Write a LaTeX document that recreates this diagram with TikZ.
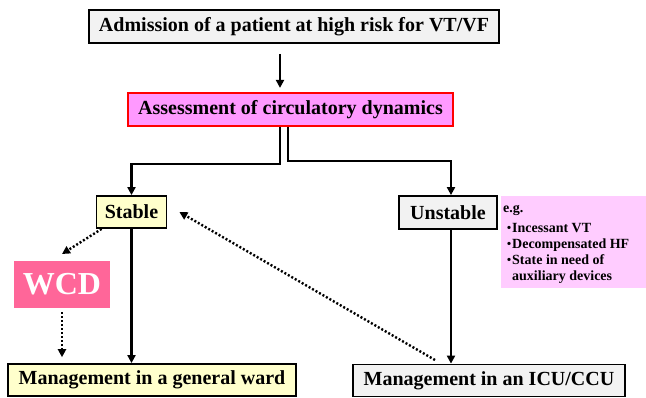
\documentclass[tikz,border=0pt]{standalone}
\usepackage{fontspec}
\setmainfont{Liberation Serif}
\newfontfamily\cjk{Noto Sans CJK JP}
\usetikzlibrary{arrows.meta,calc}
\definecolor{boxgray}{HTML}{F2F2F2}
\definecolor{assessfill}{HTML}{FF99FF}
\definecolor{assessborder}{HTML}{FF0000}
\definecolor{stablefill}{HTML}{FFFFCC}
\definecolor{notefill}{HTML}{FFCCFF}
\definecolor{wcdfill}{HTML}{FF6699}
\newcommand{\mydot}{{\cjk\fontsize{12}{14}\selectfont ・}\kern-3pt}
\begin{document}
\begin{tikzpicture}[x=1pt,y=-1pt,
  base/.style={draw=black,line width=1.8pt,inner sep=0pt,align=center,font=\bfseries\fontsize{20}{22}\selectfont},
  graybox/.style={base,fill=boxgray},
  yellowbox/.style={base,fill=stablefill},
  conn/.style={line width=2.2pt,-{Triangle[length=8pt,width=8pt]}},
  dotconn/.style={line width=2.4pt,dash pattern=on 2pt off 2pt,-{Triangle[length=8pt,width=8pt]}}]
\useasboundingbox (0,0) rectangle (646,397);
\node[graybox,minimum width=410pt,minimum height=33pt] (adm) at (294,26.5) {Admission of a patient at high risk for VT/VF};
\node[base,draw=assessborder,fill=assessfill,minimum width=325pt,minimum height=33pt] (ass) at (290.5,109.5) {Assessment of circulatory dynamics};
\node[yellowbox,minimum width=70pt,minimum height=32pt] (st) at (131.5,212) {Stable};
\node[graybox,minimum width=98pt,minimum height=33pt] (un) at (448,212.5) {Unstable};
\node[fill=notefill,inner sep=0pt,minimum width=145pt,minimum height=92pt] (note) at (573.5,242) {};
\node[anchor=north west,inner sep=0pt,align=left,font=\bfseries\fontsize{14}{16}\selectfont] (notetext) at (503,205) {e.g.\\[4pt]\mydot Incessant VT\\\mydot Decompensated HF\\\mydot State in need of\\\hspace*{9pt}auxiliary devices};
\node[fill=wcdfill,text=white,inner sep=0pt,minimum width=96pt,minimum height=47pt,font=\bfseries\fontsize{32}{34}\selectfont] (wcd) at (62,284.5) {WCD};
\node[yellowbox,minimum width=288pt,minimum height=32pt] (gw) at (152,380) {Management in a general ward};
\node[graybox,minimum width=272pt,minimum height=32pt] (icu) at (489,380.5) {Management in an ICU/CCU};
\draw[conn] (adm.south) ++(-14,10) -- ++(0,34);
\draw[conn] ($(ass.south)+(-10.5,0)$) |- ($(st.north)+(0,-31)$) -- (st.north);
\draw[conn] ($(ass.south)+(-2.5,0)$) |- ($(un.north)+(3,-34)$) -- ($(un.north)+(3,0)$);
\draw[conn] (st.south) -- (st.south |- gw.north);
\draw[conn] ($(un.north)+(3,0)$) ++(0,33) -- ($(icu.north)+(-38,0)$);
\draw[dotconn] ($(st.south west)+(6,0)$) -- (62,254);
\draw[dotconn] (wcd.south) ++(0,4) -- ++(0,45);
\draw[dotconn] (435,360) -- ($(st.east)+(12,0)$);
\end{tikzpicture}
\end{document}
